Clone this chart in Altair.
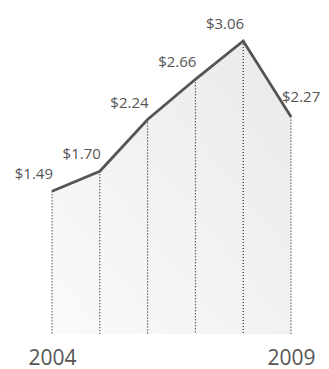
import altair as alt
import pandas as pd

years = [2004, 2005, 2006, 2007, 2008, 2009]
values = [1.49, 1.70, 2.24, 2.66, 3.06, 2.27]
labels = ["$1.49", "$1.70", "$2.24", "$2.66", "$3.06", "$2.27"]
axis_years = [2004, 2009]

df = pd.DataFrame({"year": years, "value": values, "label": labels})
df["last"] = df["year"] == years[-1]

FONT = "Open Sans"

x = alt.X("year:Q", scale=alt.Scale(domain=[years[0], years[-1]], nice=False, zero=False),
          axis=alt.Axis(values=axis_years, format="d", title=None, domain=False, ticks=False,
                        grid=False, labelFontSize=21, labelFont=FONT, labelColor="#555555",
                        labelPadding=13, labelFlush=False))
y = alt.Y("value:Q", scale=alt.Scale(domain=[0, max(values)], nice=False), axis=None)

base = alt.Chart(df).encode(x=x, y=y)

area = base.mark_area(
    color=alt.Gradient(gradient="linear",
                       stops=[alt.GradientStop(color="#fafafa", offset=0),
                              alt.GradientStop(color="#e9e9e9", offset=1)],
                       x1=0, x2=1, y1=1, y2=0)
)

rules = base.mark_rule(color="#000000", strokeDash=[1, 2], strokeWidth=1).encode(y2=alt.datum(0))

line = base.mark_line(color="#555555", strokeWidth=2.8)

text_right = base.mark_text(align="right", baseline="middle", dy=-17, dx=1, fontSize=15,
                            font=FONT, color="#555555").encode(text="label:N").transform_filter(
    "!datum.last")
text_left = base.mark_text(align="left", baseline="middle", dy=-20, dx=-9, fontSize=15,
                           font=FONT, color="#555555").encode(text="label:N").transform_filter(
    "datum.last")

chart = alt.layer(area, rules, line, text_right, text_left).properties(
    width=239, height=293,
    autosize=alt.AutoSizeParams(type="none"),
    padding={"left": 44, "top": 33, "right": 30, "bottom": 40},
).configure_view(stroke=None)

chart.save("out.html", embed_options={"renderer": "svg", "actions": False})
